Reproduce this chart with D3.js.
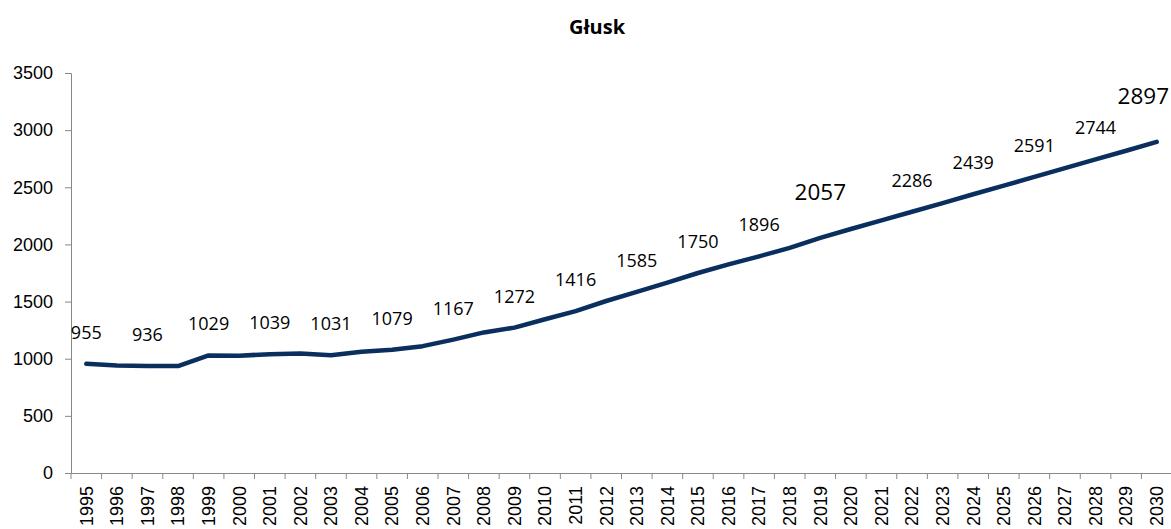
<!DOCTYPE html>
<html>
<head>
<meta charset="utf-8">
<script src="https://cdn.jsdelivr.net/npm/d3@7"></script>
<style>
  body { margin: 0; background: #fff; }
  svg { display: block; font-family: "Open Sans", "Noto Sans", sans-serif; }
</style>
</head>
<body>
<svg id="chart" width="1171" height="529"></svg>
<script>
// dane
const years = ["1995","1996","1997","1998","1999","2000","2001","2002","2003","2004","2005","2006",
  "2007","2008","2009","2010","2011","2012","2013","2014","2015","2016","2017","2018",
  "2019","2020","2021","2022","2023","2024","2025","2026","2027","2028","2029","2030"];
const values = [955, 940, 936, 936, 1029, 1027, 1039, 1045, 1031, 1060, 1079, 1110,
  1167, 1230, 1272, 1345, 1416, 1505, 1585, 1665, 1750, 1825, 1896, 1970,
  2057, 2135, 2210, 2286, 2362, 2439, 2515, 2591, 2668, 2744, 2820, 2897];
const labelledYears = ["1995","1997","1999","2001","2003","2005","2007","2009","2011","2013",
  "2015","2017","2019","2022","2024","2026","2028","2030"];
const bigLabels = ["2019","2030"];
const yTicks = [0, 500, 1000, 1500, 2000, 2500, 3000, 3500];
const title = "Głusk";

const W = 1171, H = 529;
const FS = 18;
const svg = d3.select("#chart");

const x = d3.scaleBand().domain(years).range([71, 1172]);
const y = d3.scaleLinear().domain([0, 3500]).range([473, 73]);
const cx = d => x(d) + x.bandwidth() / 2;

svg.append("text")
  .attr("x", 597).attr("y", 34)
  .attr("text-anchor", "middle")
  .attr("font-size", 20).attr("font-weight", "bold")
  .text(title);

// os Y
const gy = svg.append("g")
  .attr("transform", "translate(71,0)")
  .call(d3.axisLeft(y).tickValues(yTicks).tickFormat(d3.format("d")).tickSize(6).tickPadding(12));
gy.selectAll("text").attr("font-size", FS).attr("fill", "#000").style("font-family", "inherit");

// os X
const gx = svg.append("g")
  .attr("transform", "translate(0,473)")
  .call(d3.axisBottom(x).tickSize(0));
gx.selectAll(".tick text")
  .attr("font-size", FS).attr("fill", "#000").style("font-family", "inherit")
  .attr("transform", "rotate(-90)")
  .attr("text-anchor", "end")
  .attr("x", -13).attr("y", 0).attr("dy", "0.35em");
// znaczniki na granicach kategorii
gx.selectAll(".sep")
  .data(years)
  .enter().append("line")
  .attr("x1", d => x(d)).attr("x2", d => x(d))
  .attr("y1", 0).attr("y2", 6)
  .attr("stroke", "#888");
[gx, gy].forEach(g => {
  g.select(".domain").attr("stroke", "#888");
  g.selectAll(".tick line").attr("stroke", "#888");
});

const data = years.map((yr, i) => ({ yr, v: values[i] }));

svg.append("path")
  .datum(data)
  .attr("fill", "none")
  .attr("stroke", "#0a2f5f")
  .attr("stroke-width", 4.5)
  .attr("stroke-linecap", "round")
  .attr("stroke-linejoin", "round")
  .attr("d", d3.line().x(d => cx(d.yr)).y(d => y(d.v)));

// etykiety
const lab = svg.append("g")
  .selectAll("text")
  .data(data.filter(d => labelledYears.includes(d.yr)))
  .enter().append("text")
  .attr("text-anchor", "middle")
  .attr("font-size", d => bigLabels.includes(d.yr) ? 22.5 : FS)
  .attr("x", d => cx(d.yr))
  .attr("y", d => y(d.v) - (bigLabels.includes(d.yr) ? 38 : 25))
  .text(d => d.v);

// nie wychodzic poza prawa krawedz
lab.each(function() {
  const b = this.getBBox();
  if (b.x + b.width > W - 2) {
    d3.select(this).attr("x", +d3.select(this).attr("x") - (b.x + b.width - (W - 2)));
  }
});
</script>
</body>
</html>
